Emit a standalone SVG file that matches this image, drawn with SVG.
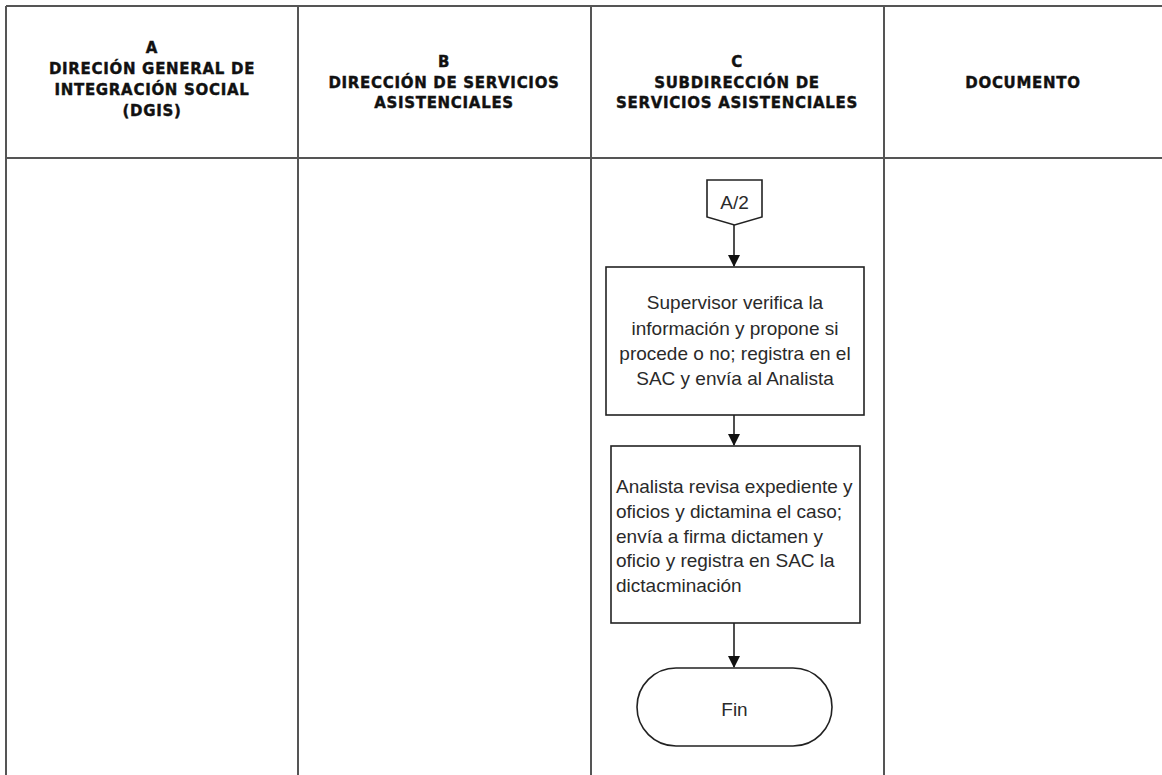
<svg xmlns="http://www.w3.org/2000/svg" width="1162" height="775" viewBox="0 0 1162 775">
<defs>
<style>
.grid{stroke:#555;stroke-width:2;fill:none}
.hdr{font-family:"DejaVu Sans",sans-serif;font-weight:bold;font-size:15px;letter-spacing:0.7px;fill:#111;stroke:#111;stroke-width:0.4;text-anchor:middle}
.shape{fill:#fff;stroke:#222;stroke-width:1.6}
.txt{font-family:"Liberation Sans",Arial,sans-serif;font-size:19px;fill:#2a2a2a}
.c{text-anchor:middle}
.conn{stroke:#222;stroke-width:1.6;fill:none}
</style>
<marker id="arr" markerWidth="12" markerHeight="12" refX="11" refY="6" orient="auto" markerUnits="userSpaceOnUse">
<path d="M0,0 L12,6 L0,12 Z" fill="#111"/>
</marker>
</defs>
<rect x="0" y="0" width="1162" height="775" fill="#fff"/>
<g id="table">
<line class="grid" x1="6" y1="6" x2="1162" y2="6"/>
<line class="grid" x1="6" y1="158" x2="1162" y2="158"/>
<line class="grid" x1="6" y1="6" x2="6" y2="775"/>
<line class="grid" x1="298" y1="6" x2="298" y2="775"/>
<line class="grid" x1="591" y1="6" x2="591" y2="775"/>
<line class="grid" x1="884" y1="6" x2="884" y2="775"/>
</g>
<g id="headers">
<text class="hdr" x="152" y="53">A</text>
<text class="hdr" x="152" y="74">DIRECIÓN GENERAL DE</text>
<text class="hdr" x="152" y="95">INTEGRACIÓN SOCIAL</text>
<text class="hdr" x="152" y="116">(DGIS)</text>
<text class="hdr" x="444" y="67">B</text>
<text class="hdr" x="444" y="88">DIRECCIÓN DE SERVICIOS</text>
<text class="hdr" x="444" y="108">ASISTENCIALES</text>
<text class="hdr" x="737" y="67">C</text>
<text class="hdr" x="737" y="88">SUBDIRECCIÓN DE</text>
<text class="hdr" x="737" y="108">SERVICIOS ASISTENCIALES</text>
<text class="hdr" x="1023" y="88">DOCUMENTO</text>
</g>
<g id="connectors">
<line class="conn" x1="734" y1="225" x2="734" y2="266" marker-end="url(#arr)"/>
<line class="conn" x1="734" y1="415" x2="734" y2="445" marker-end="url(#arr)"/>
<line class="conn" x1="734" y1="623" x2="734" y2="667" marker-end="url(#arr)"/>
</g>
<g id="node-a2">
<polygon class="shape" points="707,180 762,180 762,217 734.5,225 707,217"/>
<text class="txt c" x="734.5" y="209">A/2</text>
</g>
<g id="node-supervisor">
<rect class="shape" x="606" y="267" width="258" height="148"/>
<text class="txt c" x="735" y="309">Supervisor verifica la</text>
<text class="txt c" x="735" y="335">información y propone si</text>
<text class="txt c" x="735" y="360">procede o no; registra en el</text>
<text class="txt c" x="735" y="385">SAC y envía al Analista</text>
</g>
<g id="node-analista">
<rect class="shape" x="611" y="446" width="249" height="177"/>
<text class="txt" x="616" y="493">Analista revisa expediente y</text>
<text class="txt" x="616" y="518">oficios  y dictamina el caso;</text>
<text class="txt" x="616" y="543">envía a firma dictamen y</text>
<text class="txt" x="616" y="567">oficio y registra en SAC la</text>
<text class="txt" x="616" y="592">dictacminación</text>
</g>
<g id="node-fin">
<rect class="shape" x="637" y="668" width="195" height="78" rx="39" ry="39"/>
<text class="txt c" x="734.5" y="716">Fin</text>
</g>
</svg>
